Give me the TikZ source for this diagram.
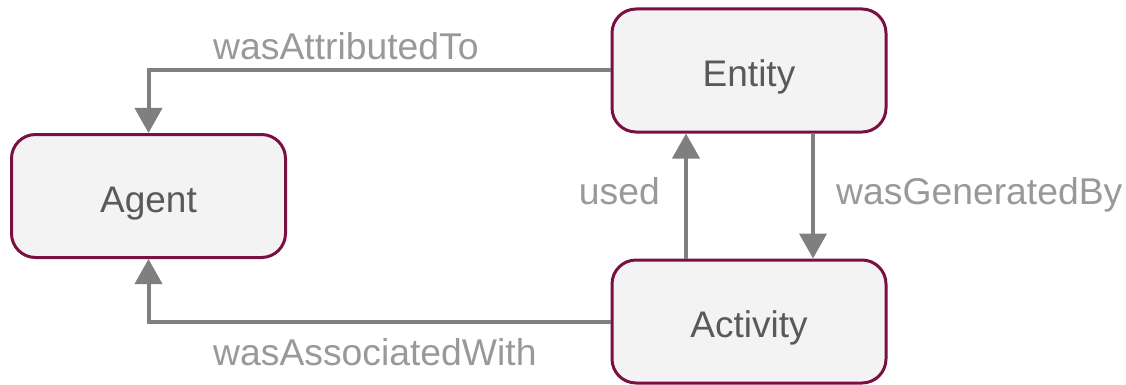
\documentclass[tikz,border=0pt]{standalone}
\usepackage{fontspec}
\setmainfont{Liberation Sans}
\usetikzlibrary{arrows.meta}
\definecolor{boxline}{RGB}{122,16,66}
\definecolor{boxfill}{RGB}{243,243,243}
\definecolor{boxtext}{RGB}{89,89,89}
\definecolor{edgecol}{RGB}{127,127,127}
\definecolor{labcol}{RGB}{153,153,153}
\tikzset{
  provbox/.style={draw=boxline, fill=boxfill, line width=3pt, rounded corners=24pt,
    minimum width=274pt, minimum height=123pt, inner sep=0pt, text=boxtext,
    text height=32pt, text depth=0pt,
    font=\fontsize{37}{44}\selectfont},
  rel/.style={draw=edgecol, line width=4pt, -{Triangle[length=25pt,width=27pt]}},
  rellabel/.style={text=labcol, inner sep=0pt, font=\fontsize{37.3}{44}\selectfont}
}
\begin{document}
\begin{tikzpicture}[x=1pt,y=-1pt]
  \useasboundingbox (0,0) rectangle (1126,385);

  % PROV core classes
  \node[provbox] (agent)    at (148.5,196)   {Agent};
  \node[provbox] (entity)   at (749,70.5)    {Entity};
  \node[provbox] (activity) at (749,321.5)   {Activity};

  % relations
  \draw[rel] (entity.west) -| (agent.north);
  \draw[rel] (activity.west) -| (agent.south);
  \draw[rel] ([xshift=-63pt]activity.north) -- ([xshift=-63pt]entity.south);
  \draw[rel] ([xshift=64pt]entity.south) -- ([xshift=64pt]activity.north);

  % relation names
  \node[rellabel, anchor=base west] (lattr)  at (213,60)  {wasAttributedTo};
  \node[rellabel, anchor=base west] (lassoc) at (213,365) {wasAssociatedWith};
  \node[rellabel, anchor=base east] (lused)  at (660,204) {used};
  \node[rellabel, anchor=base west] (lgen)   at (836,204) {wasGeneratedBy};
\end{tikzpicture}
\end{document}
